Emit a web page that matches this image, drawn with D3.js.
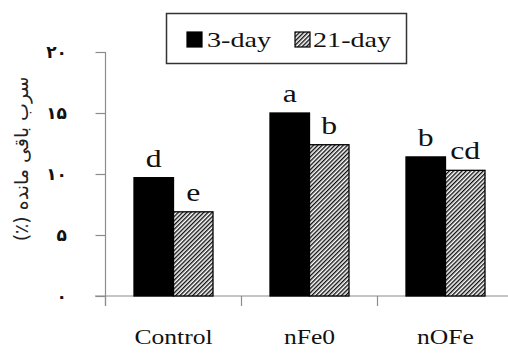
<!DOCTYPE html>
<html>
<head>
<meta charset="utf-8">
<script src="https://cdn.jsdelivr.net/npm/d3@7"></script>
<style>
  html, body { margin: 0; padding: 0; background: #fff; }
  svg { display: block; }
</style>
</head>
<body>
<svg id="chart" width="508" height="353"></svg>
<script>
// Remaining lead (%) after 3 and 21 days per treatment
const categories = ["Control", "nFe0", "nOFe"];
const seriesNames = ["3-day", "21-day"];
const values3day = [9.7, 15.0, 11.4];
const values21day = [6.9, 12.4, 10.3];
const letters3day = ["d", "a", "b"];
const letters21day = ["e", "b", "cd"];
const yTicks = [0, 5, 10, 15, 20];
const yTickLabels = ["۰", "۵", "۱۰", "۱۵", "۲۰"];
const yTitle = "سرب باقی مانده (٪)";

const svg = d3.select("#chart");
const serif = "'Liberation Serif', 'Times New Roman', serif";
const axisColor = "#8c8c8c";
const stretch = 1.28; // horizontally widened serif text

const x = d3.scaleBand().domain(categories).range([105.5, 513.5]).paddingInner(0).paddingOuter(0);
const barW = 39.5;
const xs = d3.scaleBand().domain(seriesNames)
  .range([x.bandwidth() / 2 - barW, x.bandwidth() / 2 + barW]);
const y = d3.scaleLinear().domain([0, 20]).range([296, 52]);

// hatch pattern
const defs = svg.append("defs");
const pat = defs.append("pattern")
  .attr("id", "hatch").attr("patternUnits", "userSpaceOnUse")
  .attr("width", 3).attr("height", 3)
  .attr("patternTransform", "rotate(45)");
pat.append("rect").attr("width", 3).attr("height", 3).attr("fill", "#fff");
pat.append("line").attr("x1", 0.7).attr("y1", 0).attr("x2", 0.7).attr("y2", 3)
  .attr("stroke", "#111").attr("stroke-width", 1.4);

const fills = { "3-day": "#000", "21-day": "url(#hatch)" };

// y axis
const yAxis = svg.append("g").attr("transform", "translate(105.5,0)")
  .call(d3.axisLeft(y).tickValues(yTicks).tickSize(10).tickFormat(""));
yAxis.select(".domain").attr("d", `M0,${y(20)}V${y(0) + 10}`).attr("stroke", axisColor).attr("stroke-width", 1.2);
yAxis.selectAll(".tick line").attr("stroke", axisColor).attr("stroke-width", 1.2);

svg.append("g").selectAll("text").data(yTicks).join("text")
  .attr("x", 67).attr("y", d => y(d) + 6)
  .attr("text-anchor", "end")
  .attr("font-family", "'DejaVu Sans', sans-serif")
  .attr("font-weight", "bold")
  .attr("font-size", 17)
  .attr("fill", "#111")
  .text((d, i) => yTickLabels[i]);

// x axis
const xAxis = svg.append("g").attr("transform", `translate(0,${y(0)})`)
  .call(d3.axisBottom(x).tickSize(0).tickFormat(""));
xAxis.select(".domain").attr("d", `M95,0H508`).attr("stroke", axisColor).attr("stroke-width", 1.2);
const bounds = categories.map(c => x(c)).concat([x(categories[categories.length - 1]) + x.bandwidth()]);
svg.append("g").selectAll("line").data(bounds).join("line")
  .attr("x1", d => d).attr("x2", d => d)
  .attr("y1", y(0)).attr("y2", y(0) + 10)
  .attr("stroke", axisColor).attr("stroke-width", 1.2);

// category labels
svg.append("g").selectAll("text").data(categories).join("text")
  .attr("transform", d => `translate(${x(d) + x.bandwidth() / 2},344) scale(${stretch},1)`)
  .attr("text-anchor", "middle")
  .attr("font-family", serif).attr("font-size", 20).attr("fill", "#111")
  .text(d => d);

// bars
const rows = categories.map((c, i) => ({ cat: c, "3-day": values3day[i], "21-day": values21day[i],
  lab: { "3-day": letters3day[i], "21-day": letters21day[i] } }));
const groups = svg.append("g").selectAll("g").data(rows).join("g")
  .attr("transform", d => `translate(${x(d.cat)},0)`);
groups.selectAll("rect").data(d => seriesNames.map(s => ({ s, v: d[s] }))).join("rect")
  .attr("x", d => xs(d.s)).attr("width", xs.bandwidth())
  .attr("y", d => y(d.v)).attr("height", d => y(0) - y(d.v))
  .attr("fill", d => fills[d.s])
  .attr("stroke", "#000").attr("stroke-width", 1.3);
groups.selectAll("text").data(d => seriesNames.map(s => ({ s, v: d[s], t: d.lab[s] }))).join("text")
  .attr("transform", d => `translate(${xs(d.s) + xs.bandwidth() / 2},${y(d.v) - 11}) scale(1.22,1)`)
  .attr("text-anchor", "middle")
  .attr("font-family", serif).attr("font-size", 26).attr("fill", "#111")
  .text(d => d.t);

// y title (right-to-left line, rotated to read upward)
svg.append("text")
  .attr("transform", "translate(28,159) rotate(-90)")
  .attr("text-anchor", "middle")
  .attr("direction", "rtl")
  .style("direction", "rtl")
  .style("unicode-bidi", "embed")
  .attr("font-family", "'DejaVu Sans', sans-serif")
  .attr("font-size", 19).attr("fill", "#222")
  .text(yTitle);

// legend
const lg = svg.append("g");
lg.append("rect").attr("x", 166.5).attr("y", 13.5).attr("width", 240).attr("height", 50)
  .attr("fill", "#fff").attr("stroke", "#333").attr("stroke-width", 1.5);
const legendItems = [
  { s: "3-day", bx: 187, tx: 207 },
  { s: "21-day", bx: 295, tx: 313 }
];
legendItems.forEach(it => {
  lg.append("rect").attr("x", it.bx).attr("y", 32).attr("width", 15).attr("height", 15)
    .attr("fill", fills[it.s]).attr("stroke", "#000").attr("stroke-width", 1.2);
  lg.append("text")
    .attr("transform", `translate(${it.tx},47) scale(${stretch},1)`)
    .attr("font-family", serif).attr("font-size", 22).attr("fill", "#111")
    .text(it.s);
});
</script>
</body>
</html>
